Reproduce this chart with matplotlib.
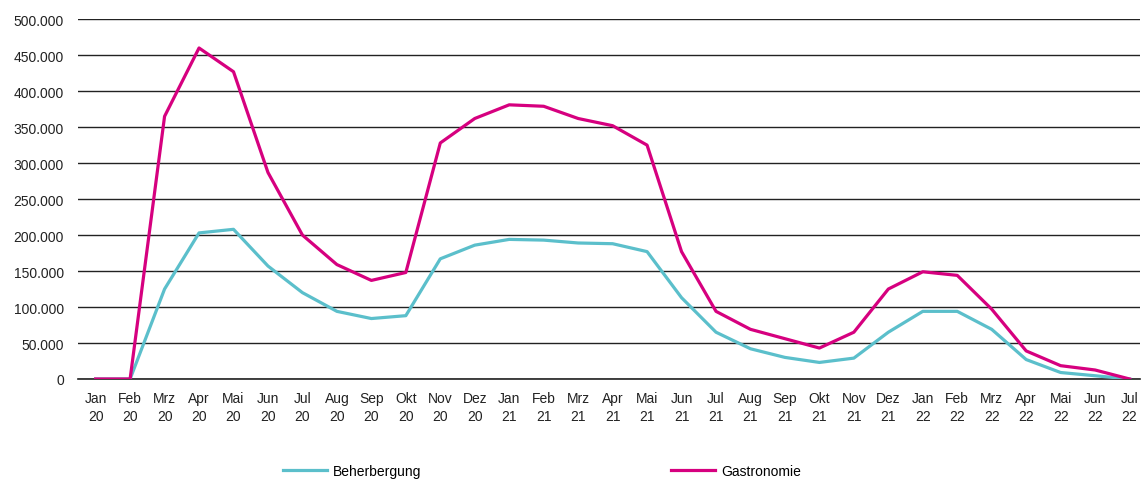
import matplotlib.pyplot as plt
from matplotlib import font_manager

monate = ['Jan', 'Feb', 'Mrz', 'Apr', 'Mai', 'Jun', 'Jul', 'Aug', 'Sep', 'Okt', 'Nov', 'Dez']
tick_labels = []
for jahr in ['20', '21', '22']:
    for m in monate:
        tick_labels.append(m + '\n' + jahr)
tick_labels = tick_labels[:31]  # Jan 20 .. Jul 22

beherbergung = [0, 0, 125000, 203000, 208000, 157000, 120000, 94000, 84000, 88000,
                167000, 186000, 194000, 193000, 189000, 188000, 177000, 113000, 65000,
                42000, 30000, 23000, 29000, 65000, 94000, 94000, 69000, 27000, 9000,
                4500, 0]
gastronomie = [0, 0, 365000, 460000, 427000, 287000, 200000, 159000, 137000, 148000,
               328000, 362000, 381000, 379000, 362000, 352000, 325000, 177000, 94000,
               69000, 56000, 43000, 65000, 125000, 149000, 144000, 97000, 39000, 18500,
               12500, 0]

namen = [f.name for f in font_manager.fontManager.ttflist]
schrift = 'Liberation Sans Narrow' if 'Liberation Sans Narrow' in namen else 'Liberation Sans'
plt.rcParams['font.family'] = ['Liberation Sans', 'DejaVu Sans']

fig = plt.figure(figsize=(11.43, 4.81), dpi=100)
ax = fig.add_axes([0.068, 0.21, 0.929, 0.748])

x = list(range(len(tick_labels)))
ax.plot(x, beherbergung, color='#5BBFCB', lw=2.3, label='Beherbergung', zorder=3)
ax.plot(x, gastronomie, color='#D6007F', lw=2.3, label='Gastronomie', zorder=3)

ax.set_ylim(0, 500000)
ax.set_xlim(-0.52, 30.29)
ax.set_yticks(range(0, 500001, 50000))
ax.set_yticklabels([f'{v:,}'.replace(',', '.') for v in range(0, 500001, 50000)], fontsize=10, color='#222222')
ax.set_xticks(x)
ax.set_xticklabels(tick_labels, fontsize=10, family=[schrift, 'DejaVu Sans'], color='#222222',
                   linespacing=1.35)
ax.tick_params(length=0, pad=9)
ax.tick_params(axis='y', pad=10)
ax.grid(axis='y', color='#222222', lw=1)
ax.axhline(0, color='#222222', lw=1.2, clip_on=False, zorder=2)
ax.set_axisbelow(True)
for s in ax.spines.values():
    s.set_visible(False)

fig.legend(loc='center', bbox_to_anchor=(0.474, 0.018), ncol=2, frameon=False,
           handlelength=3.2, columnspacing=18, handletextpad=0.4,
           prop={'family': [schrift, 'DejaVu Sans'], 'size': 10})

fig.savefig('out.png', dpi=100)
